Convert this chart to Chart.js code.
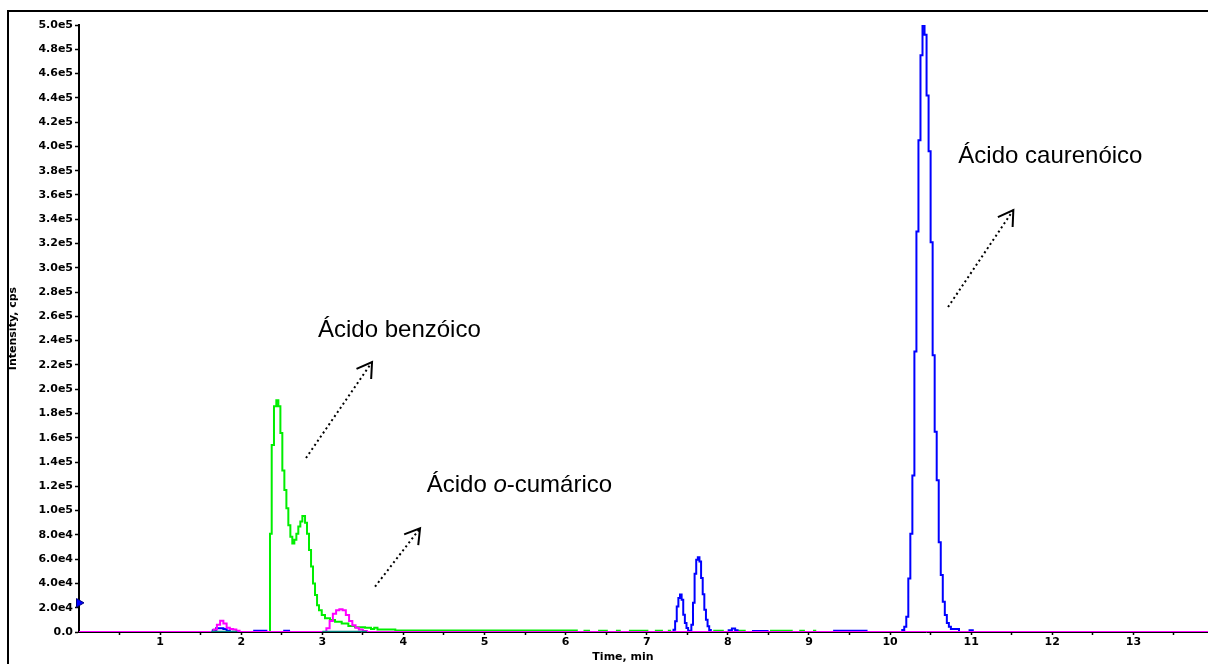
<!DOCTYPE html>
<html>
<head>
<meta charset="utf-8">
<script src="https://cdn.jsdelivr.net/npm/chart.js@4.4.0/dist/chart.umd.min.js"></script>
<style>
  html, body { margin: 0; padding: 0; background: #fff; }
  #wrap { width: 1208px; height: 664px; }
</style>
</head>
<body>
<div id="wrap"><canvas id="chrom" width="1208" height="664"></canvas></div>
<script>
// Retention time (min) / intensity (cps)
const blueTime = [0, 1.62, 1.65, 1.69, 1.73, 1.78, 1.82, 1.86, 2.15, 2.16, 2.30, 2.31, 2.52, 2.53, 2.58, 2.59,
  7.31, 7.33, 7.35, 7.37, 7.39, 7.41, 7.43, 7.45, 7.47, 7.49, 7.51, 7.53,
  7.55, 7.57, 7.59, 7.61, 7.63, 7.65, 7.67, 7.69, 7.71, 7.73, 7.75, 7.77, 7.79,
  7.98, 8.01, 8.05, 8.09, 8.12, 8.30, 8.31, 8.48, 8.49, 9.30, 9.31, 9.70, 9.71,
  10.12, 10.15, 10.175, 10.20, 10.225, 10.25, 10.275, 10.30, 10.325, 10.35, 10.375, 10.40, 10.425, 10.45,
  10.475, 10.50, 10.525, 10.55, 10.575, 10.60, 10.625, 10.65, 10.675, 10.70, 10.725, 10.75, 10.80, 10.85,
  10.97, 10.98, 11.01, 11.02, 13.92];
const blueCps = [0, 0, 1500, 3000, 3000, 2500, 1000, 0, 0, 1000, 1000, 0, 0, 1000, 1000, 0,
  0, 1900, 8800, 21000, 28000, 30800, 26600, 14300, 7400, 3300, 1000, 0,
  6000, 24000, 48000, 59600, 61500, 58000, 44500, 31000, 18400, 10000, 4700, 1600, 0,
  0, 1500, 2800, 1500, 0, 0, 800, 800, 0, 0, 1000, 1000, 0,
  0, 1600, 4400, 12600, 44000, 81000, 129000, 231000, 330000, 405000, 475000, 500000, 492000, 442000,
  396000, 321000, 228000, 165000, 125000, 74000, 47000, 25000, 14000, 7400, 4400, 2500, 2500, 0,
  0, 1500, 1500, 0, 0];

const greenTime = [0, 2.33, 2.355, 2.376, 2.404, 2.433, 2.458, 2.483, 2.507, 2.532, 2.557, 2.581, 2.606, 2.630,
  2.655, 2.680, 2.704, 2.729, 2.754, 2.787, 2.811, 2.836, 2.861, 2.885, 2.910, 2.935, 2.959, 2.993,
  3.033, 3.095, 3.157, 3.239, 3.321, 3.403, 3.527, 3.60, 3.64, 3.68, 3.90, 6.15, 6.16,
  6.22, 6.30, 6.31, 6.40, 6.52, 6.53, 6.62, 6.68, 6.69, 6.78, 7.02, 7.03, 7.10, 7.20, 7.21, 7.26, 7.30, 7.31,
  7.82, 7.95, 7.96, 8.10, 8.22, 8.23, 8.52, 8.80, 8.81, 8.88, 8.95, 8.96, 9.05, 9.09, 9.10];
const greenCps = [0, 0, 81000, 154000, 186000, 191000, 186000, 164000, 133000, 117000, 102000, 88000, 78500, 73000,
  76000, 81000, 87000, 91000, 95500, 90000, 81000, 67500, 54000, 40000, 30500, 22000, 18000, 14000,
  11300, 9900, 8500, 7100, 4900, 3900, 3500, 2500, 3500, 2000, 1200, 1200, null,
  1000, 1000, null, 1000, 1000, null, 1000, 1000, null, 1000, 1000, null, 1000, 1000, null, 1000, 1000, null,
  1000, 1000, null, 1000, 1000, null, 1000, 1000, null, 1000, 1000, null, 1000, 1000, null];

const magentaTime = [0, 1.62, 1.66, 1.70, 1.74, 1.78, 1.82, 1.86, 1.90, 1.94, 1.98,
  3.01, 3.05, 3.09, 3.13, 3.17, 3.21, 3.25, 3.29, 3.33, 3.37, 3.41, 3.45, 3.50, 3.55, 13.92];
const magentaCps = [0, 0, 2000, 6000, 9300, 7000, 3500, 2500, 2000, 1000, 0,
  0, 3000, 9000, 15000, 18000, 18700, 18000, 14000, 9000, 5500, 3500, 2000, 800, 0, 0];

const tealTime = [1.63, 1.95, 1.96, 3.00, 3.55];
const tealCps = [0, 0, null, 0, 0];

const markerTime = [0];
const markerCps = [24000];

const xTickValues = [0.5, 1, 1.5, 2, 2.5, 3, 3.5, 4, 4.5, 5, 5.5, 6, 6.5, 7, 7.5, 8, 8.5, 9, 9.5,
  10, 10.5, 11, 11.5, 12, 12.5, 13, 13.5];
const xTickLabels = ['1', '2', '3', '4', '5', '6', '7', '8', '9', '10', '11', '12', '13'];
const yTickValues = [0, 20000, 40000, 60000, 80000, 100000, 120000, 140000, 160000, 180000, 200000,
  220000, 240000, 260000, 280000, 300000, 320000, 340000, 360000, 380000, 400000,
  420000, 440000, 460000, 480000, 500000];
const yTickLabels = ['0.0', '2.0e4', '4.0e4', '6.0e4', '8.0e4', '1.0e5', '1.2e5', '1.4e5', '1.6e5', '1.8e5', '2.0e5',
  '2.2e5', '2.4e5', '2.6e5', '2.8e5', '3.0e5', '3.2e5', '3.4e5', '3.6e5', '3.8e5', '4.0e5',
  '4.2e5', '4.4e5', '4.6e5', '4.8e5', '5.0e5'];

// peak labels and their dotted arrows, in data units (min, cps)
const noteText = [['Ácido benzóico'], ['Ácido ', 'o', '-cumárico'], ['Ácido caurenóico']];
const noteX = [2.947, 4.287, 10.842];
const noteY = [243000, 115600, 386300];
const arrowFromX = [2.799, 3.650, 10.715];
const arrowFromY = [143300, 37300, 267700];
const arrowToX = [3.613, 4.205, 11.52];
const arrowToY = [222400, 85400, 347600];

const pts = (t, v) => t.map((x, i) => ({ x: x, y: v[i] }));
const tickFont = { family: 'DejaVu Sans', size: 11, weight: 'bold' };

const trace = (data, color, w) => ({
    data: data, borderColor: color, backgroundColor: color, borderWidth: w,
    pointRadius: 0, stepped: true, spanGaps: false, fill: false,
});

const frameAndNotes = {
    id: 'frameAndNotes',
    afterDraw(chart) {
        const ctx = chart.ctx, xs = chart.scales.x, ys = chart.scales.y;
        ctx.save();
        // outer frame (top + left visible)
        ctx.strokeStyle = '#000';
        ctx.lineWidth = 2;
        ctx.beginPath();
        ctx.moveTo(8, 664); ctx.lineTo(8, 11); ctx.lineTo(1208, 11);
        ctx.stroke();

        // x title
        ctx.fillStyle = '#000';
        ctx.font = 'bold 11px "DejaVu Sans"';
        ctx.textAlign = 'center';
        ctx.textBaseline = 'middle';
        ctx.fillText('Time, min', 623, 657);

        // notes
        ctx.textAlign = 'left';
        ctx.textBaseline = 'alphabetic';
        noteText.forEach((parts, i) => {
            let px = xs.getPixelForValue(noteX[i]);
            const py = ys.getPixelForValue(noteY[i]);
            parts.forEach((p, j) => {
                ctx.font = (parts.length === 3 && j === 1 ? 'italic ' : '') + '24px "Liberation Sans", Arial';
                ctx.fillText(p, px, py);
                px += ctx.measureText(p).width;
            });
        });

        // dotted arrows
        arrowFromX.forEach((fx, i) => {
            const x0 = xs.getPixelForValue(fx), y0 = ys.getPixelForValue(arrowFromY[i]);
            const x1 = xs.getPixelForValue(arrowToX[i]), y1 = ys.getPixelForValue(arrowToY[i]);
            ctx.setLineDash([2, 3]);
            ctx.lineWidth = 2;
            ctx.beginPath();
            ctx.moveTo(x0, y0); ctx.lineTo(x1, y1);
            ctx.stroke();
            ctx.setLineDash([]);
            const back = Math.atan2(y0 - y1, x0 - x1);
            ctx.beginPath();
            ctx.moveTo(x1 + 17 * Math.cos(back + 0.55), y1 + 17 * Math.sin(back + 0.55));
            ctx.lineTo(x1, y1);
            ctx.lineTo(x1 + 17 * Math.cos(back - 0.55), y1 + 17 * Math.sin(back - 0.55));
            ctx.stroke();
        });
        ctx.restore();
    }
};

new Chart(document.getElementById('chrom'), {
    type: 'line',
    data: {
        datasets: [
            trace(pts(tealTime, tealCps), '#008080', 2.5),
            trace(pts(magentaTime, magentaCps), '#ff00ff', 2),
            trace(pts(blueTime, blueCps), '#0000ff', 2),
            trace(pts(greenTime, greenCps), '#00ee00', 2),
            {
                type: 'scatter', data: pts(markerTime, markerCps), pointStyle: 'triangle', rotation: 90,
                pointRadius: 5, backgroundColor: '#0000ff', borderColor: '#000080', borderWidth: 1, clip: false,
            },
        ],
    },
    options: {
        responsive: false,
        animation: false,
        layout: { autoPadding: false, padding: { top: 25, right: 0, bottom: 0, left: 0 } },
        plugins: { legend: { display: false }, tooltip: { enabled: false } },
        scales: {
            x: {
                type: 'linear', min: 0, max: 13.92,
                afterFit: s => { s.height = 32; },
                afterBuildTicks: s => { s.ticks = xTickValues.map(v => ({ value: v })); },
                ticks: {
                    autoSkip: false, maxRotation: 0, padding: 1, color: '#000', font: tickFont,
                    callback: v => (Number.isInteger(v) ? xTickLabels[v - 1] : ''),
                },
                grid: { drawOnChartArea: false, tickLength: 3, tickColor: '#000', tickWidth: 1.5 },
                border: { color: '#000', width: 1 },
            },
            y: {
                min: 0, max: 500000,
                afterFit: s => { s.width = 79; },
                afterBuildTicks: s => { s.ticks = yTickValues.map(v => ({ value: v })); },
                ticks: {
                    autoSkip: false, padding: 2, color: '#000', font: tickFont,
                    callback: (v, i) => yTickLabels[i],
                },
                grid: { drawOnChartArea: false, tickLength: 4, tickColor: '#000', tickWidth: 1.5 },
                border: { color: '#000', width: 2 },
                title: {
                    display: true, text: 'Intensity, cps', color: '#000',
                    font: { family: 'DejaVu Sans', size: 11, weight: 'bold' },
                    padding: { top: 7, bottom: 0 },
                },
            },
        },
    },
    plugins: [frameAndNotes],
});
</script>
</body>
</html>
